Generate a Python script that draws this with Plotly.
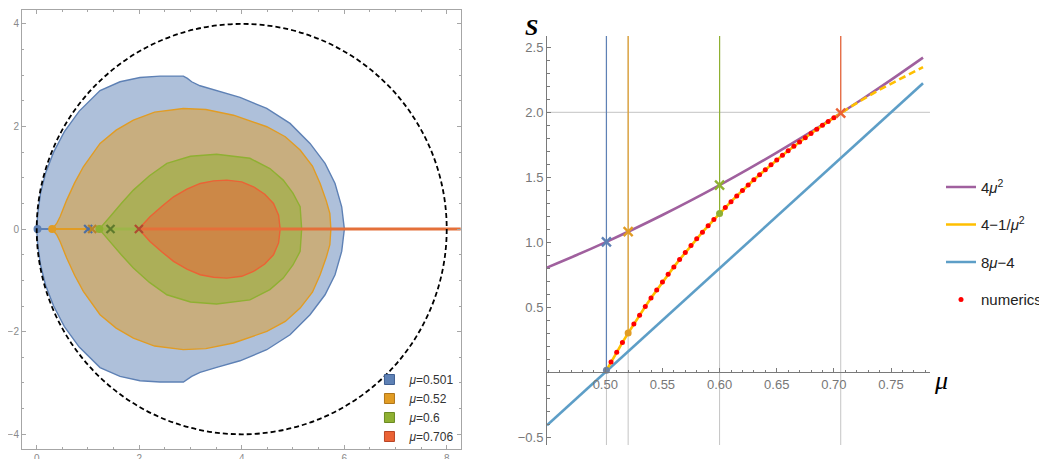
import plotly.graph_objects as go

# ---------------- data: left panel (regions, upper halves; symmetric about y=0) ----------------
blue_x = [0.000, 0.020, 0.075, 0.175, 0.330, 0.540, 0.830, 1.236, 1.626, 2.016, 2.407, 2.862,
          2.940, 3.024, 3.187, 3.512, 3.967, 4.488, 4.943, 5.333, 5.626, 5.821, 5.951, 6.003]
blue_y = [0.000, 0.300, 0.700, 1.100, 1.500, 1.900, 2.300, 2.700, 2.872, 2.956, 2.982, 2.982,
          2.937, 2.872, 2.794, 2.697, 2.567, 2.352, 2.060, 1.670, 1.280, 0.890, 0.435, 0.000]
orange_x = [0.30, 0.39, 0.46, 0.585, 0.74, 0.91, 1.236, 1.55, 1.886, 2.30, 2.86, 3.30, 3.84,
            4.49, 4.85, 5.14, 5.38, 5.53, 5.65, 5.72, 5.74]
orange_y = [0.00, 0.11, 0.25, 0.565, 0.90, 1.215, 1.67, 1.93, 2.125, 2.28, 2.35, 2.33, 2.22,
            1.995, 1.80, 1.54, 1.23, 0.89, 0.55, 0.305, 0.00]
green_x = [1.22, 1.33, 1.43, 1.65, 1.886, 2.20, 2.54, 3.00, 3.51, 4.16, 4.55, 4.81, 5.00, 5.14, 5.17]
green_y = [0.00, 0.12, 0.24, 0.50, 0.76, 1.04, 1.28, 1.42, 1.46, 1.38, 1.18, 0.955, 0.70, 0.435, 0.00]
red_x = [1.99, 2.10, 2.21, 2.45, 2.67, 2.93, 3.19, 3.45, 3.71, 4.00, 4.23, 4.45, 4.62, 4.72, 4.75]
red_y = [0.00, 0.12, 0.24, 0.45, 0.63, 0.78, 0.89, 0.94, 0.955, 0.92, 0.825, 0.68, 0.50, 0.27, 0.00]

mu_labels = ["0.501", "0.52", "0.6", "0.706"]
mu_vals = [0.501, 0.52, 0.6, 0.706]
dot_pos = [0.016, 0.302, 1.222, 1.994]     # 4 - 1/mu^2
cross_pos = [1.004, 1.082, 1.44, 1.994]    # 4 mu^2
cut_end = 8.6
circle_center = 4.0
circle_radius = 4.0

# ---------------- data: right panel ----------------
mu_4mu2 = [0.449, 0.475, 0.50, 0.525, 0.55, 0.575, 0.60, 0.625, 0.65, 0.675, 0.70, 0.725, 0.75, 0.778]
s_4mu2 = [0.806, 0.9025, 1.00, 1.1025, 1.21, 1.3225, 1.44, 1.5625, 1.69, 1.8225, 1.96, 2.1025, 2.25, 2.421]
mu_lin = [0.449, 0.778]
s_lin = [-0.408, 2.224]
mu_num = [0.505, 0.510, 0.515, 0.520, 0.525, 0.530, 0.535, 0.540, 0.545, 0.550, 0.555, 0.560,
          0.565, 0.570, 0.575, 0.580, 0.585, 0.590, 0.595, 0.600, 0.605, 0.610, 0.615, 0.620,
          0.625, 0.630, 0.635, 0.640, 0.645, 0.650, 0.655, 0.660, 0.665, 0.670, 0.675, 0.680,
          0.685, 0.690, 0.695, 0.700]
s_num = [0.079, 0.155, 0.230, 0.302, 0.372, 0.440, 0.506, 0.571, 0.633, 0.694, 0.754, 0.811,
         0.867, 0.922, 0.975, 1.027, 1.078, 1.127, 1.175, 1.222, 1.268, 1.313, 1.356, 1.399,
         1.440, 1.481, 1.520, 1.559, 1.596, 1.633, 1.669, 1.704, 1.739, 1.772, 1.805, 1.837,
         1.869, 1.900, 1.930, 1.959]
mu_solid = [0.500] + mu_num + [0.7071]
s_solid = [0.000] + s_num + [2.000]
mu_dash = [0.7071, 0.72, 0.74, 0.76, 0.778]
s_dash = [2.000, 2.071, 2.174, 2.269, 2.348]
s_top = 2.587
h_grid = [2.0]

# ---------------- styles ----------------
C = ["#5E81B5", "#E19C24", "#8FB032", "#EB6235"]
C_edge = ["#3F5F92", "#B0761A", "#6A8A22", "#B84526"]
C_cross = ["#4D6FA3", "#B9832A", "#5E7A2C", "#B04A30"]
C_fill = ["rgba(94,129,181,0.5)", "rgba(225,156,36,0.5)", "rgba(143,176,50,0.5)", "rgba(235,98,53,0.5)"]
PURPLE, YELLOW, LBLUE = "#A0609E", "#FFBF00", "#5D9EC7"
FONT = "Liberation Sans"

fig = go.Figure()

def closed(xs, ys):
    return xs + xs[::-1][1:], ys + [-v for v in ys[::-1]][1:]

for (xs, ys), i in zip([(blue_x, blue_y), (orange_x, orange_y), (green_x, green_y), (red_x, red_y)], range(4)):
    cx, cy = closed(xs, ys)
    fig.add_trace(go.Scatter(x=cx, y=cy, mode="lines", fill="toself", fillcolor=C_fill[i],
                             line=dict(color=C[i], width=1.4), showlegend=False, hoverinfo="skip",
                             xaxis="x", yaxis="y"))

# segments along the real axis
seg_w = [2, 2, 3, 3]
seg_start = [dot_pos[0], dot_pos[1], dot_pos[2], dot_pos[3]]
seg_end = [cross_pos[0], cross_pos[1], cross_pos[3], cut_end]
seg_col = [C[0], C[1], "#9DB54A", "#E4703A"]
for i in range(4):
    fig.add_trace(go.Scatter(x=[seg_start[i], seg_end[i]], y=[0, 0], mode="lines",
                             line=dict(color=seg_col[i], width=seg_w[i]), showlegend=False,
                             hoverinfo="skip", xaxis="x", yaxis="y"))
for i in range(3):
    fig.add_trace(go.Scatter(x=[dot_pos[i]], y=[0], mode="markers",
                             marker=dict(color=C[i], size=8), showlegend=False, xaxis="x", yaxis="y"))
for i in range(4):
    fig.add_trace(go.Scatter(x=[cross_pos[i]], y=[0], mode="markers",
                             marker=dict(color=C_cross[i], size=8, symbol="x-thin",
                                         line=dict(color=C_cross[i], width=2.2)),
                             showlegend=False, xaxis="x", yaxis="y"))
for i in range(4):
    fig.add_trace(go.Scatter(x=[None], y=[None], mode="markers", name="<i>μ</i>=" + mu_labels[i],
                             marker=dict(color=C[i], size=10, symbol="square",
                                         line=dict(color=C_edge[i], width=1)),
                             legend="legend", xaxis="x", yaxis="y"))

# ---------------- right panel ----------------
for i in range(4):
    fig.add_trace(go.Scatter(x=[mu_vals[i], mu_vals[i]], y=[dot_pos[i], s_top], mode="lines",
                             line=dict(color=C[i], width=1.2), showlegend=False, hoverinfo="skip",
                             xaxis="x2", yaxis="y2"))

fig.add_trace(go.Scatter(x=mu_lin, y=s_lin, mode="lines", line=dict(color=LBLUE, width=2.6),
                         name="8<i>μ</i>−4", legend="legend2", legendgroup="c", legendrank=3,
                         xaxis="x2", yaxis="y2"))
fig.add_trace(go.Scatter(x=mu_4mu2, y=s_4mu2, mode="lines", line=dict(color=PURPLE, width=2.6),
                         line_shape="spline",
                         name="4<i>μ</i><sup>2</sup>", legend="legend2", legendgroup="a", legendrank=1,
                         xaxis="x2", yaxis="y2"))
fig.add_trace(go.Scatter(x=mu_solid, y=s_solid, mode="lines", line=dict(color=YELLOW, width=2.6),
                         name="4−1/<i>μ</i><sup>2</sup>", legend="legend2", legendgroup="b", legendrank=2,
                         xaxis="x2", yaxis="y2"))
fig.add_trace(go.Scatter(x=mu_dash, y=s_dash, mode="lines",
                         line=dict(color=YELLOW, width=2.6, dash="7px,4px"),
                         showlegend=False, xaxis="x2", yaxis="y2"))
fig.add_trace(go.Scatter(x=mu_num, y=s_num, mode="markers", marker=dict(color="#FF0000", size=5),
                         name="numerics", legend="legend2", legendgroup="d", legendrank=4,
                         xaxis="x2", yaxis="y2"))
for i in range(4):
    fig.add_trace(go.Scatter(x=[mu_vals[i]], y=[cross_pos[i]], mode="markers",
                             marker=dict(color=C[i], size=9, symbol="x-thin",
                                         line=dict(color=C[i], width=2.4)),
                             showlegend=False, xaxis="x2", yaxis="y2"))
for i in range(3):
    fig.add_trace(go.Scatter(x=[mu_vals[i]], y=[dot_pos[i]], mode="markers",
                             marker=dict(color=C[i] if i else "#6F84A3", size=7),
                             showlegend=False, xaxis="x2", yaxis="y2"))

shapes = []
shapes.append(dict(type="circle", xref="x", yref="y",
                   x0=circle_center - circle_radius, x1=circle_center + circle_radius,
                   y0=-circle_radius, y1=circle_radius,
                   line=dict(color="black", width=1.8, dash="5px,3px"), layer="above"))
for m in mu_vals:
    shapes.append(dict(type="line", xref="x2", yref="y2 domain", x0=m, x1=m, y0=0, y1=1,
                       line=dict(color="#C4C4C4", width=1), layer="below"))
for h in h_grid:
    shapes.append(dict(type="line", xref="x2 domain", yref="y2", x0=0, x1=1, y0=h, y1=h,
                       line=dict(color="#C4C4C4", width=1), layer="below"))

left_ax = dict(showgrid=False, zeroline=False, showline=True, linecolor="#A6A6A6", linewidth=1,
               mirror="ticks", ticks="inside", ticklen=4, tickcolor="#A6A6A6", automargin=False)

# the page body adds an 8px margin, so the figure is sized to end at the window edge
W, H = 1039, 451

fig.update_layout(
    width=W, height=H, margin=dict(l=0, r=0, t=0, b=0),
    paper_bgcolor="white", plot_bgcolor="white",
    font=dict(family=FONT),
    xaxis=dict(domain=[0.01347, 0.43571], range=[-0.287, 8.273], tick0=0, dtick=2,
               minor=dict(ticks="inside", ticklen=2, tickcolor="#A6A6A6", tick0=0, dtick=0.5),
               tickfont=dict(family=FONT, size=10, color="#8A8A8A"),
               anchor="y", **left_ax),
    yaxis=dict(domain=[0.02284, 0.99557], range=[-4.281, 4.271], tick0=0, dtick=2,
               minor=dict(ticks="inside", ticklen=2, tickcolor="#A6A6A6", tick0=0, dtick=0.5),
               tickfont=dict(family=FONT, size=10, color="#8A8A8A"),
               anchor="x", **left_ax),
    xaxis2=dict(domain=[0.51877, 0.88739], range=[0.449, 0.7841], anchor="free", position=0.19224,
                showgrid=False, zeroline=False, showline=True, linecolor="#7A7A7A", linewidth=1,
                ticks="inside", ticklen=4, tickcolor="#7A7A7A", automargin=False,
                tickvals=[0.50, 0.55, 0.60, 0.65, 0.70, 0.75],
                ticktext=["0.50", "0.55", "0.60", "0.65", "0.70", "0.75"],
                minor=dict(ticks="inside", ticklen=2.5, tickcolor="#7A7A7A", tickmode="linear",
                           tick0=0.45, dtick=0.01),
                tickfont=dict(family=FONT, size=13, color="#777777")),
    yaxis2=dict(domain=[0.03104, 0.93792], range=[-0.559, 2.587], anchor="x2",
                showgrid=False, zeroline=False, showline=True, linecolor="#7A7A7A", linewidth=1,
                ticks="inside", ticklen=4, tickcolor="#7A7A7A", automargin=False,
                tickvals=[-0.5, 0.5, 1.0, 1.5, 2.0, 2.5],
                ticktext=["−0.5", "0.5", "1.0", "1.5", "2.0", "2.5"],
                minor=dict(ticks="inside", ticklen=2.5, tickcolor="#7A7A7A", tickmode="linear",
                           tick0=0, dtick=0.1),
                tickfont=dict(family=FONT, size=13, color="#777777")),
    legend=dict(x=0.3479, y=0.2084, xanchor="left", yanchor="top", bgcolor="rgba(0,0,0,0)",
                font=dict(family=FONT, size=12, color="#333333"), itemwidth=30,
                tracegroupgap=0),
    legend2=dict(x=1.0, y=0.6392, xanchor="right", yanchor="top", bgcolor="rgba(0,0,0,0)",
                 font=dict(family=FONT, size=15, color="#222222"), itemwidth=30,
                 tracegroupgap=15, traceorder="grouped"),
    shapes=shapes,
    annotations=[
        dict(text="<b><i>S</i></b>", x=0.5043, y=0.958, xref="paper", yref="paper", showarrow=False,
             xanchor="center", yanchor="middle",
             font=dict(family="Liberation Serif", size=24, color="black")),
        dict(text="<i>μ</i>", x=0.898, y=0.173, xref="paper", yref="paper", showarrow=False,
             xanchor="center", yanchor="middle",
             font=dict(family="Liberation Serif", size=26, color="black")),
    ],
)

fig.write_html("out.html")
